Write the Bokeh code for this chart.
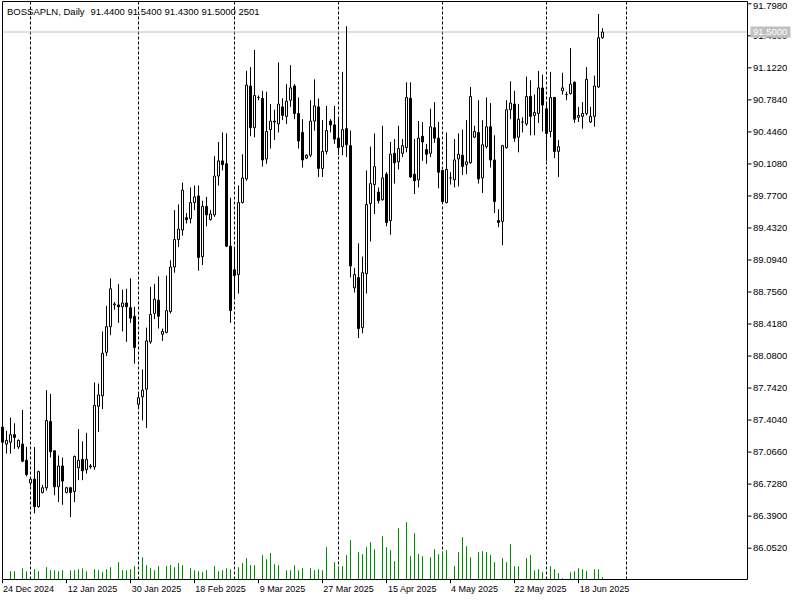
from bokeh.plotting import figure
from bokeh.models import Range1d, FixedTicker
from bokeh.core.properties import value
from bokeh.embed import file_html
from bokeh.resources import INLINE

symbol_title = "BOSSAPLN, Daily"
header_values = "91.4400 91.5400 91.4300 91.5000  2501"
last_price = 91.50

opens = [87.33, 87.15, 87.17, 87.25, 87.12, 87.15, 86.98, 86.74, 86.78, 86.49,
         86.64, 86.69, 87.39, 87.08, 86.70, 86.92, 86.64, 86.69, 86.65, 86.90,
         86.99, 86.88, 86.91, 86.91, 87.55, 87.66, 88.12, 88.39, 88.62, 88.62,
         88.60, 88.64, 88.59, 88.50, 87.57, 87.65, 87.73, 88.23, 88.53, 88.67,
         88.31, 88.33, 88.55, 89.02, 89.31, 89.41, 89.54, 89.53, 89.70, 89.77,
         89.13, 89.66, 89.52, 89.57, 89.98, 90.14, 90.11, 89.24, 88.99, 88.94,
         89.70, 89.95, 90.93, 90.49, 90.81, 90.80, 90.16, 90.47, 90.56, 90.53,
         90.71, 90.61, 90.78, 90.93, 90.64, 90.44, 90.17, 90.20, 90.56, 90.71,
         90.06, 90.24, 90.56, 90.52, 90.38, 90.29, 90.48, 90.30, 88.80, 88.91,
         88.38, 88.95, 89.69, 89.89, 89.81, 89.73, 90.00, 89.51, 90.22, 90.13,
         90.22, 90.28, 90.80, 90.00, 89.94, 90.40, 90.26, 90.22, 90.49, 90.38,
         90.04, 89.70, 89.96, 89.94, 90.16, 90.20, 90.10, 90.12, 90.39, 90.44,
         89.96, 90.29, 90.50, 90.15, 89.51, 89.50, 90.28, 90.68, 90.74, 90.39,
         90.55, 90.53, 90.82, 90.62, 90.64, 90.91, 90.69, 90.45, 90.81, 90.24,
         90.88, 90.84, 90.85, 90.97, 90.60, 90.61, 90.64, 90.55, 90.61, 90.92,
         91.44]
highs = [87.36, 87.29, 87.43, 87.37, 87.20, 87.51, 87.12, 86.80, 87.12, 86.87,
         86.72, 87.72, 87.68, 87.08, 87.03, 87.01, 86.70, 86.70, 87.03, 87.31,
         87.18, 87.27, 86.94, 87.80, 87.79, 88.34, 88.61, 88.90, 88.65, 88.84,
         88.78, 88.79, 88.90, 88.60, 87.70, 87.94, 88.38, 88.81, 88.84, 88.92,
         88.37, 88.93, 89.09, 89.62, 89.68, 89.91, 89.59, 89.86, 89.88, 89.88,
         89.72, 89.76, 89.62, 90.19, 90.34, 90.44, 90.43, 89.75, 89.23, 89.88,
         90.21, 91.09, 91.13, 91.31, 90.83, 90.88, 90.87, 90.74, 90.68, 91.18,
         90.80, 90.95, 91.15, 90.95, 90.81, 90.58, 90.21, 90.78, 91.00, 90.80,
         90.57, 90.72, 90.58, 90.72, 90.60, 91.08, 91.56, 90.46, 89.01, 89.27,
         89.13, 90.04, 90.29, 90.43, 89.86, 90.51, 90.02, 90.34, 90.37, 90.51,
         90.37, 90.97, 90.97, 90.37, 90.56, 90.55, 90.32, 90.69, 90.76, 90.55,
         90.04, 90.44, 90.02, 90.37, 90.43, 90.47, 90.57, 90.92, 90.51, 90.78,
         90.57, 90.81, 90.75, 90.41, 89.63, 90.31, 90.78, 90.98, 90.88, 90.74,
         90.60, 91.03, 90.99, 90.84, 91.09, 91.05, 90.74, 91.08, 90.81, 90.36,
         91.07, 90.87, 91.33, 90.98, 90.71, 90.76, 91.13, 90.71, 91.04, 91.69,
         91.54]
lows = [87.13, 87.05, 87.05, 87.10, 87.10, 86.96, 86.81, 86.71, 86.42, 86.48,
        86.63, 86.66, 87.01, 86.61, 86.54, 86.51, 86.63, 86.38, 86.54, 86.77,
        86.77, 86.84, 86.89, 86.88, 87.28, 87.52, 88.08, 88.30, 88.57, 88.43,
        88.34, 88.23, 88.43, 88.00, 87.54, 87.40, 87.32, 88.21, 88.47, 88.37,
        88.24, 88.32, 88.53, 88.96, 89.23, 89.35, 89.48, 89.48, 89.62, 88.98,
        89.04, 89.45, 89.51, 89.55, 89.88, 90.04, 89.23, 88.43, 88.68, 88.74,
        89.69, 89.93, 90.40, 90.39, 90.78, 90.08, 90.11, 90.27, 90.36, 90.44,
        90.57, 90.53, 90.71, 90.58, 90.27, 90.07, 90.16, 90.18, 90.46, 89.97,
        89.97, 90.21, 90.44, 90.32, 90.20, 90.20, 90.18, 88.91, 88.75, 88.27,
        88.32, 88.74, 89.29, 89.58, 89.69, 89.72, 89.45, 89.36, 89.90, 90.05,
        90.18, 90.23, 89.96, 89.79, 89.86, 90.14, 90.11, 90.18, 90.33, 89.85,
        89.70, 89.69, 89.89, 89.86, 89.87, 89.99, 90.00, 90.11, 90.38, 89.90,
        89.80, 90.27, 90.07, 89.59, 89.44, 89.25, 90.27, 90.58, 90.34, 90.23,
        90.44, 90.51, 90.41, 90.41, 90.54, 90.45, 90.14, 90.39, 90.17, 89.97,
        90.84, 90.78, 90.84, 90.54, 90.55, 90.48, 90.62, 90.54, 90.50, 90.91,
        91.43]
closes = [87.17, 87.19, 87.25, 87.22, 87.19, 86.97, 86.83, 86.78, 86.49, 86.86,
          86.69, 87.40, 87.07, 86.70, 86.92, 86.76, 86.69, 86.64, 87.02, 86.98,
          86.87, 86.99, 86.92, 87.56, 87.67, 88.11, 88.39, 88.79, 88.63, 88.60,
          88.64, 88.60, 88.48, 88.17, 87.64, 87.72, 88.24, 88.52, 88.68, 88.50,
          88.34, 88.56, 89.02, 89.31, 89.42, 89.83, 89.52, 89.70, 89.76, 89.12,
          89.66, 89.57, 89.58, 89.98, 90.14, 90.10, 89.24, 88.56, 88.93, 89.70,
          89.96, 90.94, 90.49, 90.83, 90.81, 90.15, 90.45, 90.56, 90.55, 90.74,
          90.62, 90.77, 90.91, 90.64, 90.35, 90.15, 90.20, 90.56, 90.72, 90.06,
          90.24, 90.46, 90.52, 90.37, 90.28, 90.47, 90.31, 89.03, 88.94, 88.37,
          88.96, 89.68, 89.90, 90.08, 89.72, 89.96, 89.49, 90.21, 90.12, 90.27,
          90.30, 90.81, 89.97, 89.93, 90.38, 90.34, 90.21, 90.50, 90.38, 90.02,
          89.71, 90.05, 89.96, 90.15, 90.21, 90.08, 90.13, 90.82, 90.45, 89.95,
          90.31, 90.50, 90.15, 89.71, 89.49, 90.30, 90.68, 90.75, 90.38, 90.58,
          90.55, 90.82, 90.61, 90.65, 90.91, 90.73, 90.43, 90.81, 90.24, 90.29,
          90.91, 90.84, 90.95, 90.58, 90.62, 90.64, 91.00, 90.61, 90.93, 91.44,
          91.50]
volumes = [0, 0, 9000, 9000, 0, 12000, 9000, 0, 11200, 9000,
           0, 13400, 10100, 10100, 9000, 10100, 0, 10100, 10100, 11200,
           12300, 9000, 0, 11200, 10100, 8000, 11200, 13400, 0, 18900,
           10100, 10100, 11200, 14500, 0, 24300, 15600, 12300, 10100, 14500,
           0, 14500, 15600, 13400, 17800, 15600, 0, 12300, 10100, 9000,
           8000, 10100, 0, 14500, 9000, 10100, 12300, 11200, 0, 13400,
           17800, 23200, 15600, 15600, 0, 26500, 22100, 28700, 16700, 15600,
           0, 10100, 10100, 15600, 10100, 12300, 0, 12300, 10100, 11200,
           10100, 35200, 0, 18900, 14500, 14500, 26500, 42800, 0, 29800,
           27600, 35200, 40700, 33000, 0, 47200, 35200, 31900, 19900, 55900,
           0, 62500, 25400, 50500, 27600, 25400, 0, 24300, 33000, 27600,
           29800, 31900, 0, 14500, 29800, 46100, 36300, 24300, 0, 29800,
           30800, 29800, 26500, 18900, 0, 23200, 18900, 38500, 14500, 14500,
           0, 23200, 26500, 10100, 11200, 8000, 0, 14500, 11200, 6900,
           1400, 0, 8000, 9000, 12300, 11200, 9000, 0, 11200, 11200,
           2501]

date_tick_bars = [0, 16, 32, 48, 64, 80, 96, 112, 128, 144]
date_tick_labels = ["24 Dec 2024", "12 Jan 2025", "30 Jan 2025", "18 Feb 2025",
                    "9 Mar 2025", "27 Mar 2025", "15 Apr 2025", "4 May 2025",
                    "22 May 2025", "18 Jun 2025"]
month_start_bars = [7, 34, 58, 84, 110, 136, 156]
price_ticks = [86.052, 86.390, 86.728, 87.066, 87.404, 87.742, 88.080, 88.418,
               88.756, 89.094, 89.432, 89.770, 90.108, 90.446, 90.784, 91.122,
               91.460, 91.798]

# ---------------- layout (pixel geometry of the MT-style window) ----------------
W, H = 800, 600
FRAME_H = 583                 # plotting frame spans page y 0..583, x 0..800
PX_PER_BAR = 4.0
X0 = -0.5                     # bar 0 sits at page x ~ 2-3
PRICE_PER_PX = 0.010555
Y_TOP = 91.8328               # price at page y = 0
Y_BOT = Y_TOP - FRAME_H * PRICE_PER_PX
VOL_PER_PX = 1090.0
FONT = "Liberation Sans"

def xd(px):
    return X0 + px / PX_PER_BAR

def yd(py):
    return Y_TOP - py * PRICE_PER_PX

p = figure(width=W, height=H, output_backend="svg", toolbar_location=None,
           x_range=Range1d(X0, X0 + W / PX_PER_BAR),
           y_range=Range1d(Y_BOT, Y_TOP),
           y_axis_location=None,
           min_border_left=0, min_border_right=0,
           min_border_top=0, min_border_bottom=H - FRAME_H)
p.background_fill_color = "white"
p.border_fill_color = "white"
p.outline_line_color = None
p.xgrid.visible = False
p.ygrid.visible = False

# date axis: labels left-aligned at their bar (label centre shifted right)
centers = [b + round(len(t) * 2.35) / PX_PER_BAR for b, t in zip(date_tick_bars, date_tick_labels)]
xa = p.xaxis[0]
xa.ticker = FixedTicker(ticks=centers)
xa.major_label_overrides = {c: t for c, t in zip(centers, date_tick_labels)}
xa.axis_line_color = None
xa.major_tick_out = 0
xa.major_tick_in = 0
xa.minor_tick_out = 0
xa.minor_tick_in = 0
xa.major_label_standoff = 0
xa.major_label_text_font = FONT
xa.major_label_text_font_size = "9px"
xa.major_label_text_color = "black"

bars = list(range(len(opens)))

# month separators (dashed)
p.segment(x0=month_start_bars, y0=[yd(1)] * len(month_start_bars),
          x1=month_start_bars, y1=[yd(579)] * len(month_start_bars),
          line_color="black", line_width=1, line_dash="3 2")

# bid line
p.segment(x0=[xd(2)], y0=[last_price], x1=[xd(747)], y1=[last_price],
          line_color="#c0c0c0", line_width=1)

# volumes
p.extra_y_ranges = {"vol": Range1d((579 - FRAME_H) * VOL_PER_PX, 579 * VOL_PER_PX)}
vb = [b for b, v in zip(bars, volumes) if v > 0]
vv = [v for v in volumes if v > 0]
p.segment(x0=vb, y0=[0] * len(vb), x1=vb, y1=vv, y_range_name="vol",
          line_color="#008a00", line_width=1)

# candles
p.segment(x0=bars, y0=lows, x1=bars, y1=highs, line_color="black", line_width=1)
tops = [max(o, c) for o, c in zip(opens, closes)]
bots = [min(o, c) for o, c in zip(opens, closes)]
fills = ["white" if c >= o else "black" for o, c in zip(opens, closes)]
p.vbar(x=bars, width=0.5, top=tops, bottom=bots, fill_color=fills,
       line_color="black", line_width=1)

# chart border
p.quad(left=[xd(2)], right=[xd(747)], top=[yd(1)], bottom=[yd(579)],
       fill_color=None, line_color="black", line_width=1)

# time ticks under the border
p.segment(x0=date_tick_bars, y0=[yd(579.5)] * len(date_tick_bars),
          x1=date_tick_bars, y1=[yd(583)] * len(date_tick_bars),
          line_color="black", line_width=1)

# price scale: tick marks and labels (top label nudged so it is not cut by the edge)
p.segment(x0=[xd(747.5)] * len(price_ticks), y0=price_ticks,
          x1=[xd(751)] * len(price_ticks), y1=price_ticks,
          line_color="black", line_width=1)
label_nudge = [0.0] * (len(price_ticks) - 1) + [2.0]
p.text(x=[xd(752.5)] * len(price_ticks), y=price_ticks,
       text=["%.4f" % t for t in price_ticks], y_offset=label_nudge,
       text_font=value(FONT), text_font_size=value("9.5px"), text_color="black",
       text_align="left", text_baseline="middle")

# last price box on the price scale
p.quad(left=[xd(750)], right=[xd(790)], top=[last_price + 5.5 * PRICE_PER_PX],
       bottom=[last_price - 5.5 * PRICE_PER_PX], fill_color="#c0c0c0", line_color=None)
p.text(x=[xd(752.5)], y=[last_price], text=["%.4f" % last_price],
       text_font=value(FONT), text_font_size=value("9.5px"), text_color="white",
       text_align="left", text_baseline="middle")

# header
p.text(x=[xd(6.5), xd(90)], y=[yd(5), yd(5)], text=[symbol_title, header_values],
       text_font=value(FONT), text_font_size=value("9.5px"), text_color="black",
       text_align="left", text_baseline="top")

open("out.html", "w").write(file_html(p, INLINE))
